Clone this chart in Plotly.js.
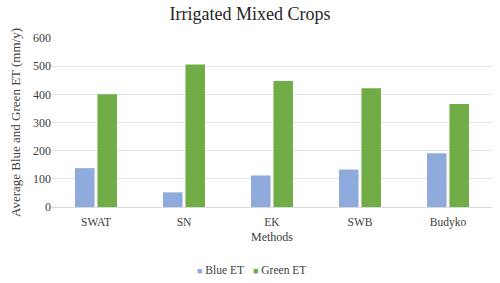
<!DOCTYPE html>
<html><head><meta charset="utf-8">
<script src="https://cdn.plot.ly/plotly-3.0.1.min.js"></script>
<style>html,body{margin:0;padding:0;background:#fff}#chart{width:500px;height:283px}</style>
</head><body><div id="chart"></div>
<script>
const categories = ["SWAT", "SN", "EK", "SWB", "Budyko"];
const blueET = [138, 52, 112, 133, 191];
const greenET = [400, 506, 447, 422, 366];
const yTicks = [0, 100, 200, 300, 400, 500, 600];
const seriesNames = ["Blue ET", "Green ET"];
const seriesColors = ["#8FAADC", "#70AD47"];

const FAM = "Liberation Serif";
function f(size, color) { return {family: FAM, size: size, color: color || "#404040"}; }
const traces = [
  {type: "bar", name: seriesNames[0], x: categories, y: blueET, marker: {color: seriesColors[0]}, showlegend: false},
  {type: "bar", name: seriesNames[1], x: categories, y: greenET, marker: {color: seriesColors[1]}, showlegend: false}
];
// Legend drawn as compact paper annotations (small square + label), like the original
const legendX = [0.325, 0.453];
const annotations = seriesNames.map((n, i) => ({
  xref: "paper", yref: "paper", x: legendX[i], y: -0.37, xanchor: "left", yanchor: "middle",
  showarrow: false, font: f(11.5),
  text: '<span style="color:' + seriesColors[i] + ';font-size:9px">■</span> ' + n
}));
const layout = {
  width: 500, height: 283,
  margin: {l: 52, r: 8, t: 38, b: 76, autoexpand: false},
  paper_bgcolor: "#fff", plot_bgcolor: "#fff",
  font: f(11),
  title: {text: "Irrigated Mixed Crops", font: f(18, "#262626"), x: 0.5, xanchor: "center", y: 0.952, yanchor: "middle", automargin: false},
  barmode: "group", bargap: 0.49, bargroupgap: 0.13,
  xaxis: {title: {text: "Methods", font: f(12), standoff: 4},
          showline: true, linecolor: "#D9D9D9", ticks: "", tickfont: f(11.5), ticklabelstandoff: 4,
          showgrid: false, zeroline: false, automargin: false},
  yaxis: {title: {text: "Average Blue and Green ET (mm/y)", font: f(13), standoff: 9},
          range: [0, 600], tickvals: yTicks, ticktext: yTicks.map(String), gridcolor: "#E3E3E3", gridwidth: 1,
          zeroline: false, showline: false, ticks: "", tickfont: f(12), automargin: false},
  annotations: annotations,
  showlegend: false
};
Plotly.newPlot("chart", traces, layout, {displayModeBar: false, staticPlot: true});
</script></body></html>
